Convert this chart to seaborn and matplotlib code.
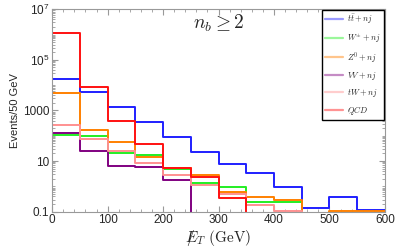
import numpy as np
import pandas as pd
import matplotlib
matplotlib.use("Agg")
import matplotlib.pyplot as plt
from matplotlib.lines import Line2D
from matplotlib.ticker import FixedLocator, LogLocator, MultipleLocator, NullFormatter
import seaborn as sns

# bin edges (GeV) and per-bin event counts
edges = list(range(0, 650, 50))
centers = [e + 25 for e in edges[:-1]]

tt = [1.8e4, 5500, 1400, 340, 87, 23, 7.7, 3.4, 0.97, 0.14, 0.39, 0.12]
wpm = [105, 98, 21, 17, 4.9, 1.3, 0.95, 0.23, 0.25, 0, 0, 0]
z0 = [5000, 170, 59, 15, 5.5, 2.8, 0.6, 0.37, 0.29, 0, 0.11, 0.11]
vv = [132, 24, 6.4, 6.0, 1.8, 0, 0, 0, 0, 0, 0, 0]
tw = [260, 73, 24, 8.2, 2.8, 1.15, 0.52, 0.18, 0.11, 0, 0, 0]
qcd = [1.1e6, 8700, 380, 46, 5.2, 2.3, 0.34, 0, 0, 0, 0, 0]

labels = [r'$t\bar{t}+nj$', r'$W^{\pm}+nj$', r'$Z^{0}+nj$',
          r'$VV+nj$', r'$tW+nj$', r'$QCD$']
series = [tt, wpm, z0, vv, tw, qcd]
colors = ['#1f1fff', '#22ee22', '#ff8000', '#800080', '#ff9090', '#ff1010']

rows = []
for lab, vals in zip(labels, series):
    for c, v in zip(centers, vals):
        rows.append({'met': c, 'events': v, 'process': lab})
df = pd.DataFrame(rows)

sns.set_style('ticks')
plt.rcParams['font.family'] = ['Liberation Sans', 'DejaVu Sans']
plt.rcParams['mathtext.fontset'] = 'cm'

fig = plt.figure(figsize=(3.98, 2.49), dpi=100)
ax = fig.add_axes([0.131, 0.150, 0.836, 0.813])

for lab, col in zip(labels, colors):
    subset = df[df['process'] == lab]
    sns.histplot(data=subset, x='met', weights='events', bins=edges,
                 element='step', fill=False, color=col, linewidth=1.4,
                 ax=ax)

ax.set_yscale('log')
ax.set_xlim(0, 600)
ax.set_ylim(0.1, 1e7)

ax.xaxis.set_major_locator(MultipleLocator(100))
ax.xaxis.set_minor_locator(MultipleLocator(20))
ax.yaxis.set_major_locator(FixedLocator([0.1, 10, 1000, 1e5, 1e7]))
ax.set_yticklabels(['0.1', '10', '1000', r'$\mathregular{10^5}$', r'$\mathregular{10^7}$'])
ax.yaxis.set_minor_locator(LogLocator(base=10, subs=np.arange(1, 10), numticks=30))
ax.yaxis.set_minor_formatter(NullFormatter())

ax.tick_params(which='both', direction='in', top=True, right=True,
               color='#999999', labelsize=8.5, pad=2)
ax.tick_params(which='major', length=4)
ax.tick_params(which='minor', length=2)
for s in ax.spines.values():
    s.set_color('#999999')
    s.set_linewidth(0.8)

ax.set_xlabel(r'$/\!\!\!\!E_T\ (\mathrm{GeV})$', fontsize=11, labelpad=1)
ax.set_ylabel('Events/50 GeV', fontsize=8, labelpad=2)

ax.text(0.5, 0.93, r'$n_b \geq 2$', transform=ax.transAxes,
        fontsize=14, ha='center', va='center')

handles = [Line2D([], [], color=c, lw=1.6, alpha=0.45) for c in colors]
leg = ax.legend(handles, labels, loc='upper right', fontsize=6,
                frameon=True, fancybox=False, edgecolor='black',
                framealpha=1, labelspacing=0.6, handlelength=2.2,
                handletextpad=0.5, borderaxespad=0.05, borderpad=0.4)
leg.get_frame().set_linewidth(1.0)

fig.savefig('out.png', dpi=100)
